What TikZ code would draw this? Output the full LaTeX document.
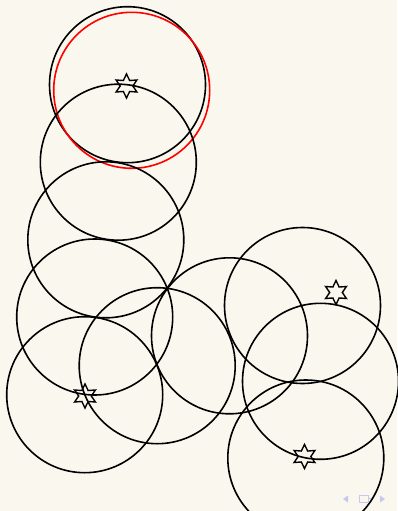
\documentclass[tikz,border=0pt]{standalone}
\usetikzlibrary{shapes.geometric}
\definecolor{bgcol}{RGB}{250,248,238}
\definecolor{navcol}{RGB}{200,200,238}
\begin{document}
\begin{tikzpicture}[x=1pt,y=-1pt,
  ring/.style={draw=black,line width=1.6pt},
  redring/.style={draw=red,line width=1.6pt},
  starmark/.style={draw=black,line width=1.4pt,star,star points=6,star point ratio=1.9,minimum size=24pt,inner sep=0pt,outer sep=0pt},
  navtri/.style={fill=navcol,draw=none},
]
\fill[bgcol] (0,0) rectangle (397,511);
\useasboundingbox (0,0) rectangle (397,511);
% circles
\draw[ring] (127.5,84.7) circle (78);
\draw[redring] (131.7,90.3) circle (78);
\draw[ring] (118.3,162.2) circle (78);
\draw[ring] (105.8,239.8) circle (78);
\draw[ring] (94.7,317) circle (78);
\draw[ring] (84.7,394.7) circle (78);
\draw[ring] (157.2,365.7) circle (78);
\draw[ring] (229.5,335.8) circle (78);
\draw[ring] (302.5,305.5) circle (78);
\draw[ring] (320.5,381.3) circle (78);
\draw[ring] (305.8,458) circle (78);
% stars
\node[starmark] (s1) at (126.5,86) {};
\node[starmark] (s2) at (85,396) {};
\node[starmark] (s3) at (336,292.5) {};
\node[starmark] (s4) at (304.5,456.5) {};
% navigation symbols
\fill[navtri] (343,499) -- (348,495.5) -- (348,502.5) -- cycle;
\draw[navcol,line width=0.8pt] (359.5,495.5) rectangle (368.5,502);
\draw[navcol,line width=0.8pt] (368.5,498.7) -- (371,498.7);
\fill[navtri] (385,499) -- (380,495.5) -- (380,502.5) -- cycle;
\end{tikzpicture}
\end{document}
